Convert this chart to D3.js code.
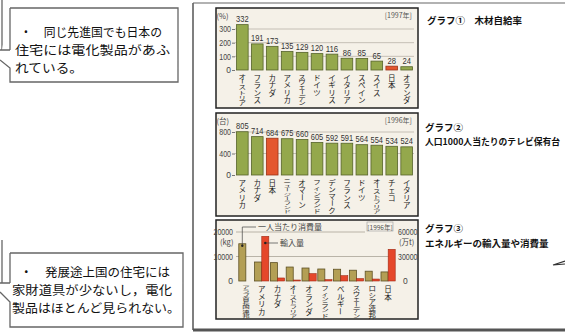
<!DOCTYPE html>
<html><head><meta charset="utf-8">
<script src="https://cdn.jsdelivr.net/npm/d3@7"></script>
<style>body{margin:0;background:#fff}svg{display:block}</style>
</head><body>
<svg id="c" width="565" height="336"></svg>
<script>
// ---- data ----
const c1Categories = ["オーストリア","フランス","カナダ","アメリカ","スウェーデン","ドイツ","イギリス","イタリア","スペイン","スイス","日本","オランダ"];
const c1Values = [332,191,173,135,129,120,116,86,85,65,28,24];
const c1Ticks = [0,100,200,300];
const c2Categories = ["アメリカ","カナダ","日本","ニュージーランド","オマーン","フィンランド","デンマーク","フランス","ドイツ","オーストラリア","チェコ","イタリア"];
const c2Values = [805,714,684,675,660,605,592,591,564,554,534,524];
const c2Ticks = [0,400,800];
const c3Categories = ["アラブ首長国連邦","アメリカ","カナダ","オーストラリア","オランダ","フィンランド","ベルギー","スウェーデン","ロシア連邦","日本"];
const c3Consumption = [15200,7750,7500,5700,5300,4900,4800,4400,4000,3700];
const c3Imports = [0,54700,3700,1200,9000,1600,6500,2900,2400,38800];
const c3LeftTicks = [0,10000,20000];
const c3RightTicks = [0,30000,60000];
const highlight = "日本";

const NUM = "'Liberation Sans','DejaVu Sans',sans-serif";
const JP = "'Noto Sans CJK JP','Noto Sans CJK SC',sans-serif";
const svg = d3.select("#c");

// ---- outer page frame ----
svg.append("line").attr("x1",193).attr("x2",193).attr("y1",3).attr("y2",330).attr("stroke","#555").attr("stroke-width",1.5);
svg.append("line").attr("x1",193).attr("x2",565).attr("y1",3).attr("y2",3).attr("stroke","#666").attr("stroke-width",1.2);
svg.append("line").attr("x1",193).attr("x2",565).attr("y1",330).attr("y2",330).attr("stroke","#555").attr("stroke-width",3);

function vLabel(g, text, cx, y0, avail, fs){
  const chars = Array.from(text);
  const step = Math.min(fs, avail/chars.length);
  chars.forEach((ch,i)=>{
    const cy = y0 + step*(i+0.5);
    g.append("text")
      .attr("transform",`translate(${cx},${cy}) scale(1,${step/fs})${ch==="ー"?" rotate(90)":""}`)
      .attr("text-anchor","middle").attr("dominant-baseline","central")
      .attr("font-family",JP).attr("font-size",fs).attr("fill","#222").text(ch);
  });
}

function panel(y, h){
  svg.append("rect").attr("x",216).attr("y",y).attr("width",202).attr("height",h)
    .attr("fill","#f5f1e8").attr("stroke","#222").attr("stroke-width",1.5);
}

function styleTicks(a){
  a.selectAll("text").each(function(){
    const t = d3.select(this); const s = t.text();
    t.attr("font-family",NUM).attr("font-size",8.5).attr("fill","#444");
    if (s.length>1) t.attr("textLength", s.length*3.9).attr("lengthAdjust","spacingAndGlyphs");
  });
}

function simpleChart(cfg){
  panel(cfg.py, cfg.ph);
  const g = svg.append("g");
  const x = d3.scaleBand().domain(cfg.cats).range([235,414]).paddingInner(0.22).paddingOuter(0.1);
  const y = d3.scaleLinear().domain(cfg.domain).range(cfg.range);
  g.selectAll(".grid").data(cfg.ticks.filter(d=>d>0)).join("line")
    .attr("x1",235).attr("x2",414).attr("y1",d=>y(d)).attr("y2",d=>y(d))
    .attr("stroke","#b9b4a8").attr("stroke-width",0.8);
  const ax = g.append("g").attr("transform","translate(235,0)")
    .call(d3.axisLeft(y).tickValues(cfg.ticks).tickSize(3).tickPadding(1).tickFormat(d3.format("d")));
  ax.select(".domain").remove();
  ax.selectAll("line").attr("stroke","#777");
  styleTicks(ax);
  g.selectAll(".bar").data(cfg.vals).join("rect")
    .attr("x",(d,i)=>x(cfg.cats[i])).attr("width",x.bandwidth())
    .attr("y",d=>y(d)).attr("height",d=>y(0)-y(d))
    .attr("fill",(d,i)=>cfg.cats[i]===highlight?"#e4572e":"#94a84c")
    .attr("stroke",(d,i)=>cfg.cats[i]===highlight?"#9a3318":"#55632a").attr("stroke-width",0.8);
  g.selectAll(".val").data(cfg.vals).join("text")
    .attr("x",(d,i)=>x(cfg.cats[i])+x.bandwidth()/2).attr("y",d=>y(d)-2.5)
    .attr("text-anchor","middle").attr("font-family",NUM).attr("font-size",9.5).attr("fill","#333")
    .attr("textLength",d=>String(d).length>2?12.5:8.5).attr("lengthAdjust","spacingAndGlyphs")
    .text(d=>d);
  cfg.cats.forEach(c=>vLabel(g, c, x(c)+x.bandwidth()/2, cfg.labY, cfg.labH, 7.5));
  g.append("text").attr("x",216.5).attr("y",cfg.py+11).attr("font-family",JP).attr("font-size",7.5).attr("fill","#444").text(cfg.unit);
  g.append("text").attr("x",412).attr("y",cfg.py+10).attr("text-anchor","end").attr("font-family",JP).attr("font-size",7).attr("fill","#555").text(cfg.year);
}

simpleChart({cats:c1Categories, vals:c1Values, ticks:c1Ticks, domain:[0,300], range:[70,29], py:8, ph:100, labY:73.5, labH:32, unit:"(%)", year:"[1997年]"});
simpleChart({cats:c2Categories, vals:c2Values, ticks:c2Ticks, domain:[0,800], range:[175,132], py:113, ph:103, labY:178.5, labH:35, unit:"(台)", year:"[1996年]"});

// ---- chart 3 ----
panel(220, 99);
{
  const g = svg.append("g");
  const x = d3.scaleBand().domain(c3Categories).range([238,396]).paddingInner(0.1).paddingOuter(0.05);
  const sub = d3.scaleBand().domain(["c","i"]).range([0,x.bandwidth()]).paddingInner(0.02);
  const yL = d3.scaleLinear().domain([0,20000]).range([281,232]);
  const yR = d3.scaleLinear().domain([0,60000]).range([281,232]);
  g.selectAll(".grid").data(c3LeftTicks.filter(d=>d>0)).join("line")
    .attr("x1",236).attr("x2",d=>d===20000?365:394).attr("y1",d=>yL(d)).attr("y2",d=>yL(d))
    .attr("stroke","#aaa497").attr("stroke-width",0.8);
  const axL = g.append("g").attr("transform","translate(235,0)")
    .call(d3.axisLeft(yL).tickValues(c3LeftTicks).tickSize(0).tickPadding(2).tickFormat(d3.format("d")));
  const axR = g.append("g").attr("transform","translate(396,0)")
    .call(d3.axisRight(yR).tickValues(c3RightTicks).tickSize(0).tickPadding(2).tickFormat(d3.format("d")));
  [axL,axR].forEach(a=>{a.select(".domain").remove(); styleTicks(a);});
  axR.selectAll("text").filter(d=>d===0).attr("x",7);
  g.selectAll(".cons").data(c3Consumption).join("rect")
    .attr("x",(d,i)=>x(c3Categories[i])+sub("c")).attr("width",sub.bandwidth())
    .attr("y",d=>yL(d)).attr("height",d=>yL(0)-yL(d))
    .attr("fill","#b39f55").attr("stroke","#5e5124").attr("stroke-width",0.8);
  g.selectAll(".imp").data(c3Imports).join("rect")
    .attr("x",(d,i)=>x(c3Categories[i])+sub("i")).attr("width",sub.bandwidth())
    .attr("y",d=>yR(d)).attr("height",d=>yR(0)-yR(d))
    .attr("fill","#e5472b").attr("stroke","#a02a15").attr("stroke-width",0.6);
  c3Categories.forEach(c=>vLabel(g, c, x(c)+x.bandwidth()/2, 285, 33, 7.5));
  g.append("text").attr("x",220).attr("y",245).attr("font-family",JP).attr("font-size",7.5).attr("fill","#444").text("(kg)");
  g.append("text").attr("x",399).attr("y",245).attr("font-family",JP).attr("font-size",7.5).attr("fill","#444").text("(万t)");
  g.append("rect").attr("x",367).attr("y",222).attr("width",26).attr("height",9).attr("fill","#f7f3ea").attr("stroke","#999").attr("stroke-width",0.6);
  g.append("text").attr("x",380).attr("y",229.5).attr("text-anchor","middle").attr("font-family",JP).attr("font-size",6.5).attr("fill","#555").text("[1996年]");
  const c0 = x(c3Categories[0])+sub("c")+sub.bandwidth()/2;
  const consTop = yL(c3Consumption[0]);
  g.append("path").attr("d",`M${c0},${consTop+2}V227H256`).attr("fill","none").attr("stroke","#444").attr("stroke-width",0.7);
  g.append("circle").attr("cx",c0).attr("cy",consTop+2).attr("r",1.2).attr("fill","#222");
  g.append("text").attr("x",258).attr("y",230).attr("font-family",JP).attr("font-size",8).attr("fill","#444").text("一人当たり消費量");
  const i1 = x(c3Categories[1])+sub("i")+sub.bandwidth()/2;
  g.append("line").attr("x1",i1).attr("x2",278).attr("y1",243).attr("y2",243).attr("stroke","#444").attr("stroke-width",0.7);
  g.append("circle").attr("cx",i1).attr("cy",243).attr("r",1.2).attr("fill","#222");
  g.append("text").attr("x",280).attr("y",246).attr("font-family",JP).attr("font-size",8).attr("fill","#444").text("輸入量");
}

// ---- right-side captions ----
const cap = svg.append("g").attr("font-family",JP).attr("font-weight","bold").attr("fill","#111").attr("font-size",9.5);
cap.append("text").attr("x",427).attr("y",24).text("グラフ①　木材自給率");
cap.append("text").attr("x",425).attr("y",131).text("グラフ②");
cap.append("text").attr("x",425).attr("y",145).attr("font-size",8.8).text("人口1000人当たりのテレビ保有台");
cap.append("text").attr("x",425).attr("y",232).text("グラフ③");
cap.append("text").attr("x",425).attr("y",247).text("エネルギーの輸入量や消費量");
svg.append("path").attr("d","M553,265 L565,261 M553,265 L565,264").attr("stroke","#333").attr("stroke-width",1.2).attr("fill","none");

// ---- callouts ----
function callout(bx,by,bw,bh,tailTop,tailBot,tailTip,lines){
  const g = svg.append("g");
  g.append("path").attr("d",
    `M${bx},${by}H${bx+bw}V${by+bh}H${bx}V${tailBot}L${tailTip[0]},${tailTip[1]}M${bx},${tailTop}H0M${bx},${tailTop}V${by}`)
    .attr("fill","#fff").attr("stroke","#666").attr("stroke-width",1.3);
  lines.forEach(l=>{
    g.append("text").attr("x",l[0]).attr("y",l[1]).attr("font-family",JP).attr("font-size",12.5).attr("fill","#111")
      .attr("textLength",l[3]).attr("lengthAdjust","spacingAndGlyphs").text(l[2]);
  });
}
svg.append("line").attr("x1",2).attr("x2",2).attr("y1",0).attr("y2",50).attr("stroke","#666").attr("stroke-width",1.3);
callout(10,8,168,74,50,68,[0,60],[
  [20,37,"・　同じ先進国でも日本の",142],
  [15,55,"住宅には電化製品があふ",155],
  [15,73,"れている。",68]]);
callout(10,253,173,74,283,302,[0,292],[
  [20,277,"・　発展途上国の住宅には",150],
  [12,295,"家財道具が少ないし，電化",160],
  [12,313,"製品はほとんど見られない。",168]]);
svg.append("line").attr("x1",2).attr("x2",2).attr("y1",240).attr("y2",283).attr("stroke","#666").attr("stroke-width",1.3);
</script>
</body></html>
